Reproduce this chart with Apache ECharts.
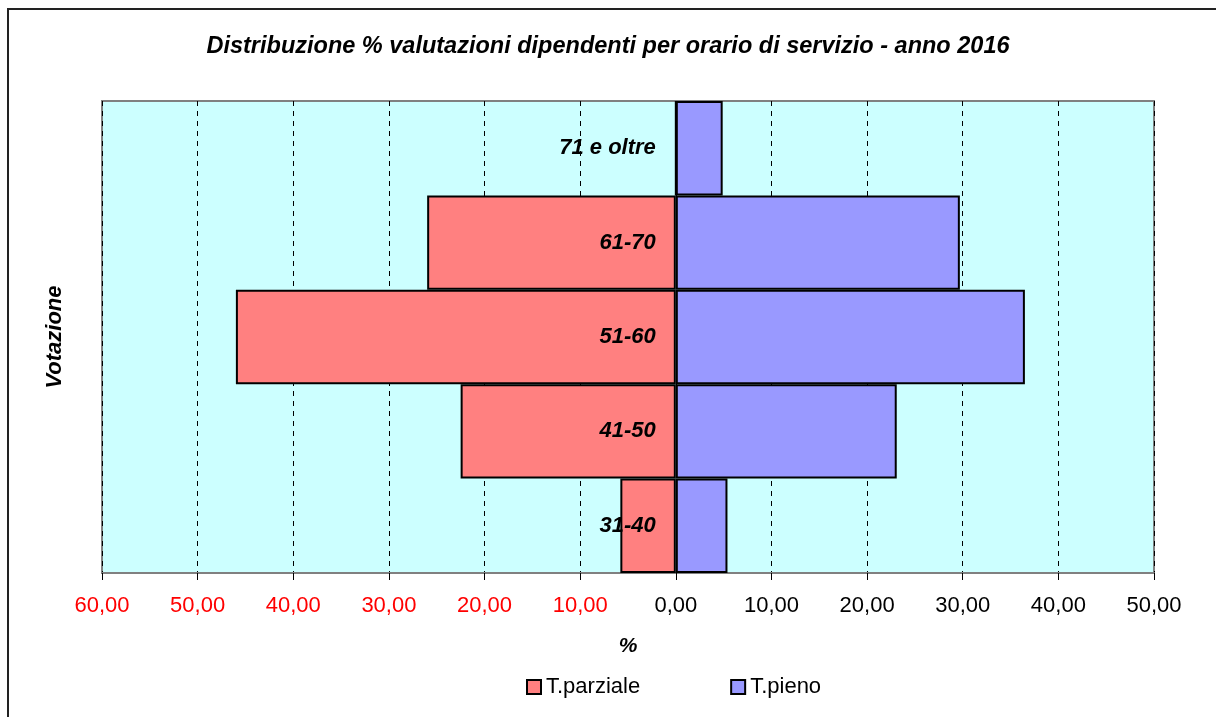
<!DOCTYPE html>
<html>
<head>
<meta charset="utf-8">
<title>Distribuzione % valutazioni dipendenti per orario di servizio - anno 2016</title>
<script src="https://cdn.jsdelivr.net/npm/echarts@6/dist/echarts.min.js"></script>
<style>
  html, body { margin: 0; padding: 0; background: #ffffff; }
  #chart { width: 1216px; height: 717px; }
</style>
</head>
<body>
<div id="chart"></div>
<script>
// Fasce di votazione (dal basso verso l'alto)
const categories = ['31-40', '41-50', '51-60', '61-70', '71 e oltre'];
// Percentuale dipendenti a tempo parziale (disegnata a sinistra)
const parziale = [5.8, 22.5, 46.0, 26.0, 0];
// Percentuale dipendenti a tempo pieno (disegnata a destra)
const pieno = [5.4, 23.1, 36.5, 29.7, 4.9];
// Estremi e passo dell'asse delle percentuali
const axisMin = -60;
const axisMax = 50;
const axisStep = 10;

const FONT = '"Liberation Sans", Arial, sans-serif';

function fmt(v) {
  return Math.abs(v).toFixed(2).replace('.', ',');
}

const chart = echarts.init(document.getElementById('chart'), null, { renderer: 'canvas' });

chart.setOption({
  animation: false,
  backgroundColor: '#ffffff',
  textStyle: { fontFamily: FONT },
  title: {
    text: 'Distribuzione % valutazioni dipendenti per orario di servizio - anno 2016',
    left: 'center',
    top: 30,
    textStyle: {
      fontFamily: FONT,
      fontSize: 23.5,
      fontWeight: 'bold',
      fontStyle: 'italic',
      color: '#000000'
    }
  },
  legend: {
    bottom: 14,
    left: 521,
    itemGap: 90,
    itemWidth: 14,
    itemHeight: 14,
    icon: 'rect',
    itemStyle: { borderColor: '#000000', borderWidth: 2 },
    textStyle: { fontFamily: FONT, fontSize: 22, color: '#000000' },
    data: ['T.parziale', 'T.pieno']
  },
  grid: {
    left: 102,
    right: 62,
    top: 101,
    bottom: 144,
    containLabel: false,
    outerBoundsMode: 'none',
    show: true,
    backgroundColor: '#CCFFFF',
    borderColor: '#808080',
    borderWidth: 2
  },
  xAxis: {
    type: 'value',
    min: axisMin,
    max: axisMax,
    interval: axisStep,
    name: '%',
    nameLocation: 'middle',
    nameGap: 63,
    nameTextStyle: {
      fontFamily: FONT,
      fontSize: 21,
      fontWeight: 'bold',
      fontStyle: 'italic',
      color: '#000000'
    },
    axisLine: { show: true, onZero: false, lineStyle: { color: '#808080', width: 2 } },
    axisTick: { show: true, length: 7, lineStyle: { color: '#000000', width: 1 } },
    axisLabel: {
      margin: 22,
      fontFamily: FONT,
      fontSize: 22,
      formatter: fmt,
      color: function (v) { return Number(v) < 0 ? '#FF0000' : '#000000'; }
    },
    splitLine: { show: true, lineStyle: { color: '#000000', type: [5, 5], width: 1 } }
  },
  yAxis: {
    type: 'category',
    data: categories,
    name: 'Votazione',
    nameLocation: 'middle',
    nameRotate: 90,
    nameGap: 36,
    nameTextStyle: {
      fontFamily: FONT,
      fontSize: 22,
      fontWeight: 'bold',
      fontStyle: 'italic',
      color: '#000000'
    },
    axisLine: { show: false, onZero: false },
    axisTick: { show: false },
    axisLabel: { show: false },
    splitLine: { show: false }
  },
  series: [
    {
      name: 'T.parziale',
      type: 'bar',
      stack: 'tot',
      barWidth: '100%',
      data: parziale.map(v => -v),
      itemStyle: { color: '#FF8080', borderColor: '#000000', borderWidth: 2 }
    },
    {
      name: 'T.pieno',
      type: 'bar',
      stack: 'tot',
      barWidth: '100%',
      data: pieno,
      itemStyle: { color: '#9999FF', borderColor: '#000000', borderWidth: 2 }
    },
    {
      // Etichette delle fasce, ancorate allo zero dell'asse
      name: 'fasce',
      type: 'scatter',
      silent: true,
      z: 10,
      symbolSize: 0,
      itemStyle: { opacity: 1 },
      data: categories.map(c => [0, c]),
      label: {
        show: true,
        position: 'left',
        distance: 20,
        formatter: p => p.value[1],
        fontFamily: FONT,
        fontSize: 22,
        fontWeight: 'bold',
        fontStyle: 'italic',
        color: '#000000',
        opacity: 1,
        textBorderWidth: 0
      }
    }
  ],
  graphic: [
    {
      type: 'rect',
      silent: true,
      shape: { x: 8, y: 9, width: 1220, height: 720 },
      style: { fill: null, stroke: '#222222', lineWidth: 2 }
    }
  ]
});
</script>
</body>
</html>
